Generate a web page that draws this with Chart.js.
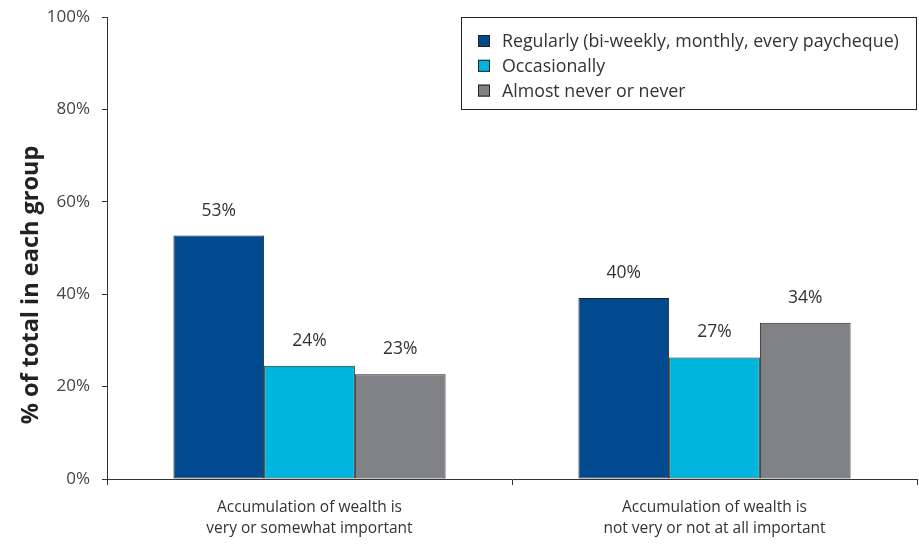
<!DOCTYPE html>
<html>
<head>
<meta charset="utf-8">
<script src="https://cdn.jsdelivr.net/npm/chart.js@4"></script>
<style>
  html, body { margin: 0; padding: 0; background: #fff; }
  #wrap { width: 919px; height: 544px; position: relative; }
</style>
</head>
<body>
<div id="wrap"><canvas id="savingsChart" width="919" height="544"></canvas></div>
<script>
// chart data
const categories = [
    ['Accumulation of wealth is', 'very or somewhat important'],
    ['Accumulation of wealth is', 'not very or not at all important']
];
const seriesNames = [
    'Regularly (bi-weekly, monthly, every paycheque)',
    'Occasionally',
    'Almost never or never'
];
const regularly = [52.7, 39.2];
const occasionally = [24.5, 26.3];
const almostNever = [22.7, 33.8];
const valueLabels = [
    ['53%', '40%'],
    ['24%', '27%'],
    ['23%', '34%']
];
const yTicks = [0, 20, 40, 60, 80, 100];
const yTitle = '% of total in each group';

const colors = ['#024a8f', '#00b5dd', '#808184'];
const FONT = '"Open Sans", "Noto Sans", sans-serif';

// value labels above each bar
const barLabels = {
    id: 'barLabels',
    afterDatasetsDraw(chart) {
        const ctx = chart.ctx;
        ctx.save();
        ctx.font = '17.5px ' + FONT;
        ctx.fillStyle = '#333';
        ctx.textAlign = 'center';
        ctx.textBaseline = 'middle';
        chart.data.datasets.forEach((ds, i) => {
            chart.getDatasetMeta(i).data.forEach((bar, j) => {
                ctx.fillText(valueLabels[i][j], bar.x, bar.y - 25);
            });
        });
        ctx.restore();
    }
};

// rotated y title, sits a bit lower than the plot centre
const sideTitle = {
    id: 'sideTitle',
    afterDraw(chart) {
        const ctx = chart.ctx;
        ctx.save();
        ctx.translate(31, 285);
        ctx.rotate(-Math.PI / 2);
        ctx.font = 'bold 23.5px ' + FONT;
        ctx.fillStyle = '#222';
        ctx.textAlign = 'center';
        ctx.textBaseline = 'middle';
        ctx.fillText(yTitle, 0, 0);
        ctx.restore();
    }
};

// boxed legend in the top right corner of the plot
const boxLegend = {
    id: 'boxLegend',
    afterDraw(chart) {
        const ctx = chart.ctx;
        const area = chart.chartArea;
        const x0 = 461, y0 = area.top, w = area.right - x0, h = 93;
        ctx.save();
        ctx.fillStyle = '#fff';
        ctx.fillRect(x0, y0, w, h);
        ctx.strokeStyle = '#222';
        ctx.lineWidth = 1;
        ctx.strokeRect(x0 + 0.5, y0 + 0.5, w - 1, h - 1);
        ctx.font = '17.8px ' + FONT;
        ctx.textBaseline = 'middle';
        chart.data.datasets.forEach((ds, i) => {
            const cy = y0 + 24 + i * 24.8;
            ctx.fillStyle = ds.backgroundColor;
            ctx.fillRect(478, cy - 6, 12, 12);
            ctx.strokeStyle = '#222';
            ctx.strokeRect(478.5, cy - 5.5, 11, 11);
            ctx.fillStyle = '#333';
            ctx.fillText(ds.label, 502, cy + 1);
        });
        ctx.restore();
    }
};

new Chart(document.getElementById('savingsChart'), {
    type: 'bar',
    data: {
        labels: categories,
        datasets: [regularly, occasionally, almostNever].map((d, i) => ({
            label: seriesNames[i],
            data: d,
            backgroundColor: colors[i],
            borderColor: '#222',
            borderWidth: 1,
            borderSkipped: false,
            categoryPercentage: 0.672,
            barPercentage: 1
        }))
    },
    options: {
        responsive: false,
        animation: false,
        layout: { padding: { left: 0, top: 17, right: 2, bottom: 0 } },
        plugins: {
            legend: { display: false },
            tooltip: { enabled: false }
        },
        scales: {
            x: {
                afterFit(scale) {
                    scale.height = 65;
                    scale.paddingLeft = 0;
                    scale.paddingRight = 0;
                },
                border: { color: '#333', width: 1 },
                grid: { offset: true, drawOnChartArea: false, drawTicks: true, tickLength: 6, color: '#333' },
                ticks: {
                    color: '#333',
                    font: { family: FONT, size: 15.5, lineHeight: 1.36 },
                    padding: 12,
                    maxRotation: 0
                }
            },
            y: {
                min: 0,
                max: 100,
                afterFit(scale) {
                    scale.width = 107;
                    scale.paddingTop = 0;
                    scale.paddingBottom = 0;
                },
                afterBuildTicks(scale) { scale.ticks = yTicks.map(v => ({ value: v })); },
                border: { color: '#333', width: 1 },
                grid: { drawOnChartArea: false, drawTicks: true, tickLength: 5, color: '#333' },
                ticks: {
                    color: '#444',
                    font: { family: FONT, size: 17 },
                    padding: 12,
                    callback: v => v + '%'
                }
            }
        }
    },
    plugins: [barLabels, sideTitle, boxLegend]
});
</script>
</body>
</html>
